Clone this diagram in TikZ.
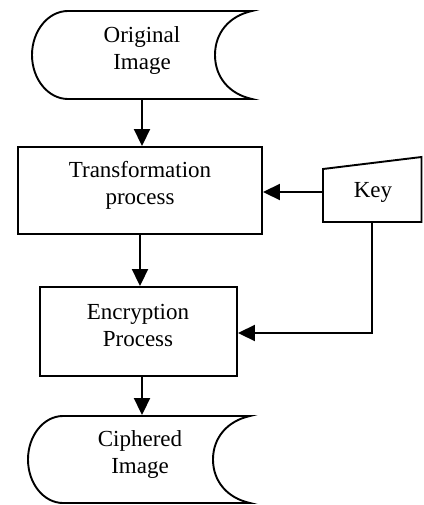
\documentclass[tikz,border=0pt]{standalone}
\usepackage{fontspec}
\setmainfont{Liberation Serif}
\usetikzlibrary{arrows.meta}
\begin{document}
\begin{tikzpicture}[x=1pt,y=-1pt,
  line width=1.9pt,
  box/.style={draw, line width=1.9pt, rectangle, inner sep=0pt},
  ghost/.style={rectangle, inner sep=0pt, draw=none},
  lbl/.style={align=center, font=\fontsize{23}{27}\selectfont, inner sep=0pt},
  arr/.style={-{Triangle[length=17pt,width=16pt]}}]
\useasboundingbox (0,0) rectangle (423,505);

% Original Image (stored data shape)
\node[ghost, minimum width=220pt, minimum height=88pt] (orig) at (142,55) {};
\draw (68,11) -- (252,11) .. controls (229,16) and (215,33) .. (215,55)
  .. controls (215,77) and (229,94) .. (252,99) -- (68,99)
  .. controls (48,99) and (32,79) .. (32,55)
  .. controls (32,31) and (48,11) .. (68,11) -- cycle;
\node[lbl] (origtxt) at (142,51) {Original\\Image};

% Transformation process
\node[box, minimum width=244pt, minimum height=87pt] (trans) at (140,190.5) {};
\node[lbl] (transtxt) at (140,185) {Transformation\\process};

% Key
\node[ghost, minimum width=99pt, minimum height=65pt] (key) at (372.5,189.5) {};
\draw (323,169) -- (421.5,157) -- (421.5,222) -- (323,222) -- cycle;
\node[lbl] (keytxt) at (373,192) {Key};

% Encryption Process
\node[box, minimum width=197pt, minimum height=89pt] (enc) at (138.5,331.5) {};
\node[lbl] (enctxt) at (138,325.5) {Encryption\\Process};

% Ciphered Image
\node[ghost, minimum width=222pt, minimum height=87pt] (ciph) at (139,459.5) {};
\draw (63,416) -- (250,416) .. controls (227,421) and (213,438) .. (213,459.5)
  .. controls (213,481) and (227,498) .. (250,503) -- (63,503)
  .. controls (43.7,503) and (28,483.5) .. (28,459.5)
  .. controls (28,435.5) and (43.7,416) .. (63,416) -- cycle;
\node[lbl] (ciphtxt) at (140,454) {Ciphered\\Image};

% connectors
\draw[arr] (orig.south) -- (orig.south |- trans.north);
\draw[arr] (trans.south) -- (trans.south |- enc.north);
\draw[arr] ([xshift=3.5pt]enc.south) -- ([xshift=3.5pt]enc.south |- ciph.north);
\coordinate (k1) at (323,192);
\draw[arr] (k1) -- (trans.east |- k1);
\coordinate (k2) at (372,222);
\coordinate (k3) at (372,333);
\draw[arr] (k2) -- (k3) -- (enc.east |- k3);
\end{tikzpicture}
\end{document}
